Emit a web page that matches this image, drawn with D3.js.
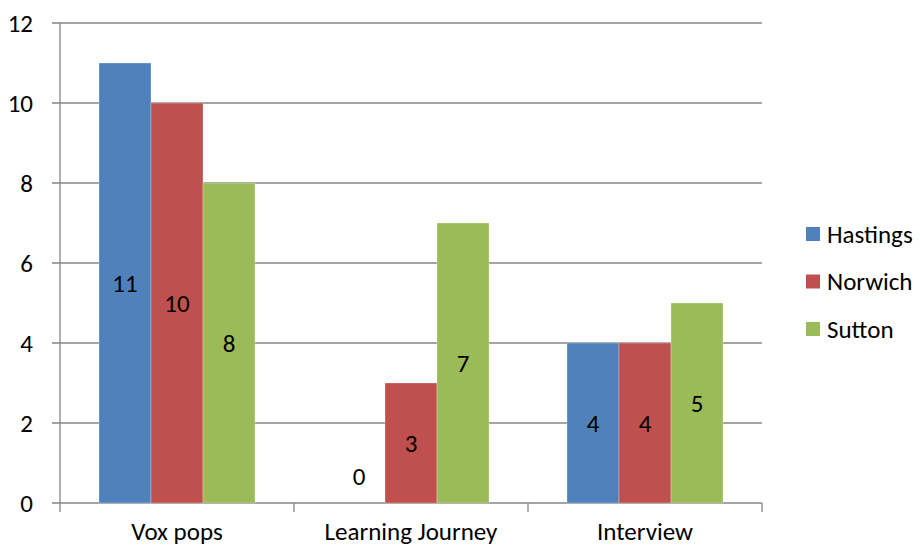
<!DOCTYPE html>
<html>
<head>
<meta charset="utf-8">
<script src="https://cdn.jsdelivr.net/npm/d3@7"></script>
<style>
  html, body { margin: 0; padding: 0; background: #fff; }
  svg { display: block; font-family: Carlito, Calibri, Lato, "Open Sans", sans-serif; }
</style>
</head>
<body>
<svg id="chart" width="920" height="548"></svg>
<script>
// Chart data
const categories = ["Vox pops", "Learning Journey", "Interview"];
const seriesNames = ["Hastings", "Norwich", "Sutton"];
const hastings = [11, 0, 4];
const norwich = [10, 3, 4];
const sutton = [8, 7, 5];
const yTicks = [0, 2, 4, 6, 8, 10, 12];
const colors = ["#4F81BD", "#C0504D", "#9BBB59"];

const seriesValues = [hastings, norwich, sutton];

const svg = d3.select("#chart");
const plot = { left: 60, right: 762, top: 23, bottom: 503 };
const fontSize = 25;

const x = d3.scaleBand().domain(categories).range([plot.left, plot.right]).paddingInner(0).paddingOuter(0);
const inner = d3.scaleBand().domain(seriesNames).range([0, x.bandwidth()]).paddingInner(0).paddingOuter(0.75);
const y = d3.scaleLinear().domain([0, 12]).range([plot.bottom, plot.top]);

const grid = "#868686";

// Horizontal gridlines with left tick marks
svg.append("g").selectAll("line").data(yTicks).join("line")
  .attr("x1", plot.left - 8).attr("x2", plot.right)
  .attr("y1", d => y(d)).attr("y2", d => y(d))
  .attr("stroke", grid).attr("stroke-width", 1.3);

// Y axis tick labels
svg.append("g").selectAll("text").data(yTicks).join("text")
  .attr("x", 33).attr("y", d => y(d)).attr("dy", "0.35em")
  .attr("text-anchor", "end").attr("font-size", fontSize).attr("fill", "#000")
  .text(d => d);

// Vertical axis line
svg.append("line").attr("x1", plot.left).attr("x2", plot.left)
  .attr("y1", plot.top).attr("y2", plot.bottom)
  .attr("stroke", grid).attr("stroke-width", 1.3);

// Category tick marks
const catEdges = categories.map(c => x(c)).concat([plot.right]);
svg.append("g").selectAll("line").data(catEdges).join("line")
  .attr("x1", d => d).attr("x2", d => d)
  .attr("y1", plot.bottom).attr("y2", plot.bottom + 9)
  .attr("stroke", grid).attr("stroke-width", 1.3);

// Category labels
svg.append("g").selectAll("text").data(categories).join("text")
  .attr("x", d => x(d) + x.bandwidth() / 2).attr("y", 540)
  .attr("text-anchor", "middle").attr("font-size", fontSize).attr("fill", "#000")
  .text(d => d);

// Bars
const barData = [];
categories.forEach((c, ci) => {
  seriesNames.forEach((s, si) => {
    barData.push({ cat: c, series: s, value: seriesValues[si][ci], color: colors[si] });
  });
});

svg.append("g").selectAll("rect").data(barData).join("rect")
  .attr("x", d => x(d.cat) + inner(d.series))
  .attr("width", inner.bandwidth())
  .attr("y", d => y(d.value))
  .attr("height", d => y(0) - y(d.value))
  .attr("fill", d => d.color)
  .attr("stroke", "rgba(255,255,255,0.35)").attr("stroke-width", 0.8);

// Value labels, centred in each bar (zero sits just above the baseline)
svg.append("g").selectAll("text").data(barData).join("text")
  .attr("x", d => x(d.cat) + inner(d.series) + inner.bandwidth() / 2)
  .attr("y", d => d.value === 0 ? y(0) - 27 : (y(d.value) + y(0)) / 2)
  .attr("dy", "0.35em")
  .attr("text-anchor", "middle").attr("font-size", fontSize).attr("fill", "#000")
  .text(d => d.value);

// Legend
const legend = svg.append("g").selectAll("g").data(seriesNames).join("g")
  .attr("transform", (d, i) => `translate(806, ${234 + i * 47.5})`);
legend.append("rect").attr("x", 0).attr("y", -7).attr("width", 14).attr("height", 14)
  .attr("fill", (d, i) => colors[i]);
legend.append("text").attr("x", 21).attr("y", 0).attr("dy", "0.35em")
  .attr("font-size", fontSize).attr("fill", "#000").text(d => d);
</script>
</body>
</html>
